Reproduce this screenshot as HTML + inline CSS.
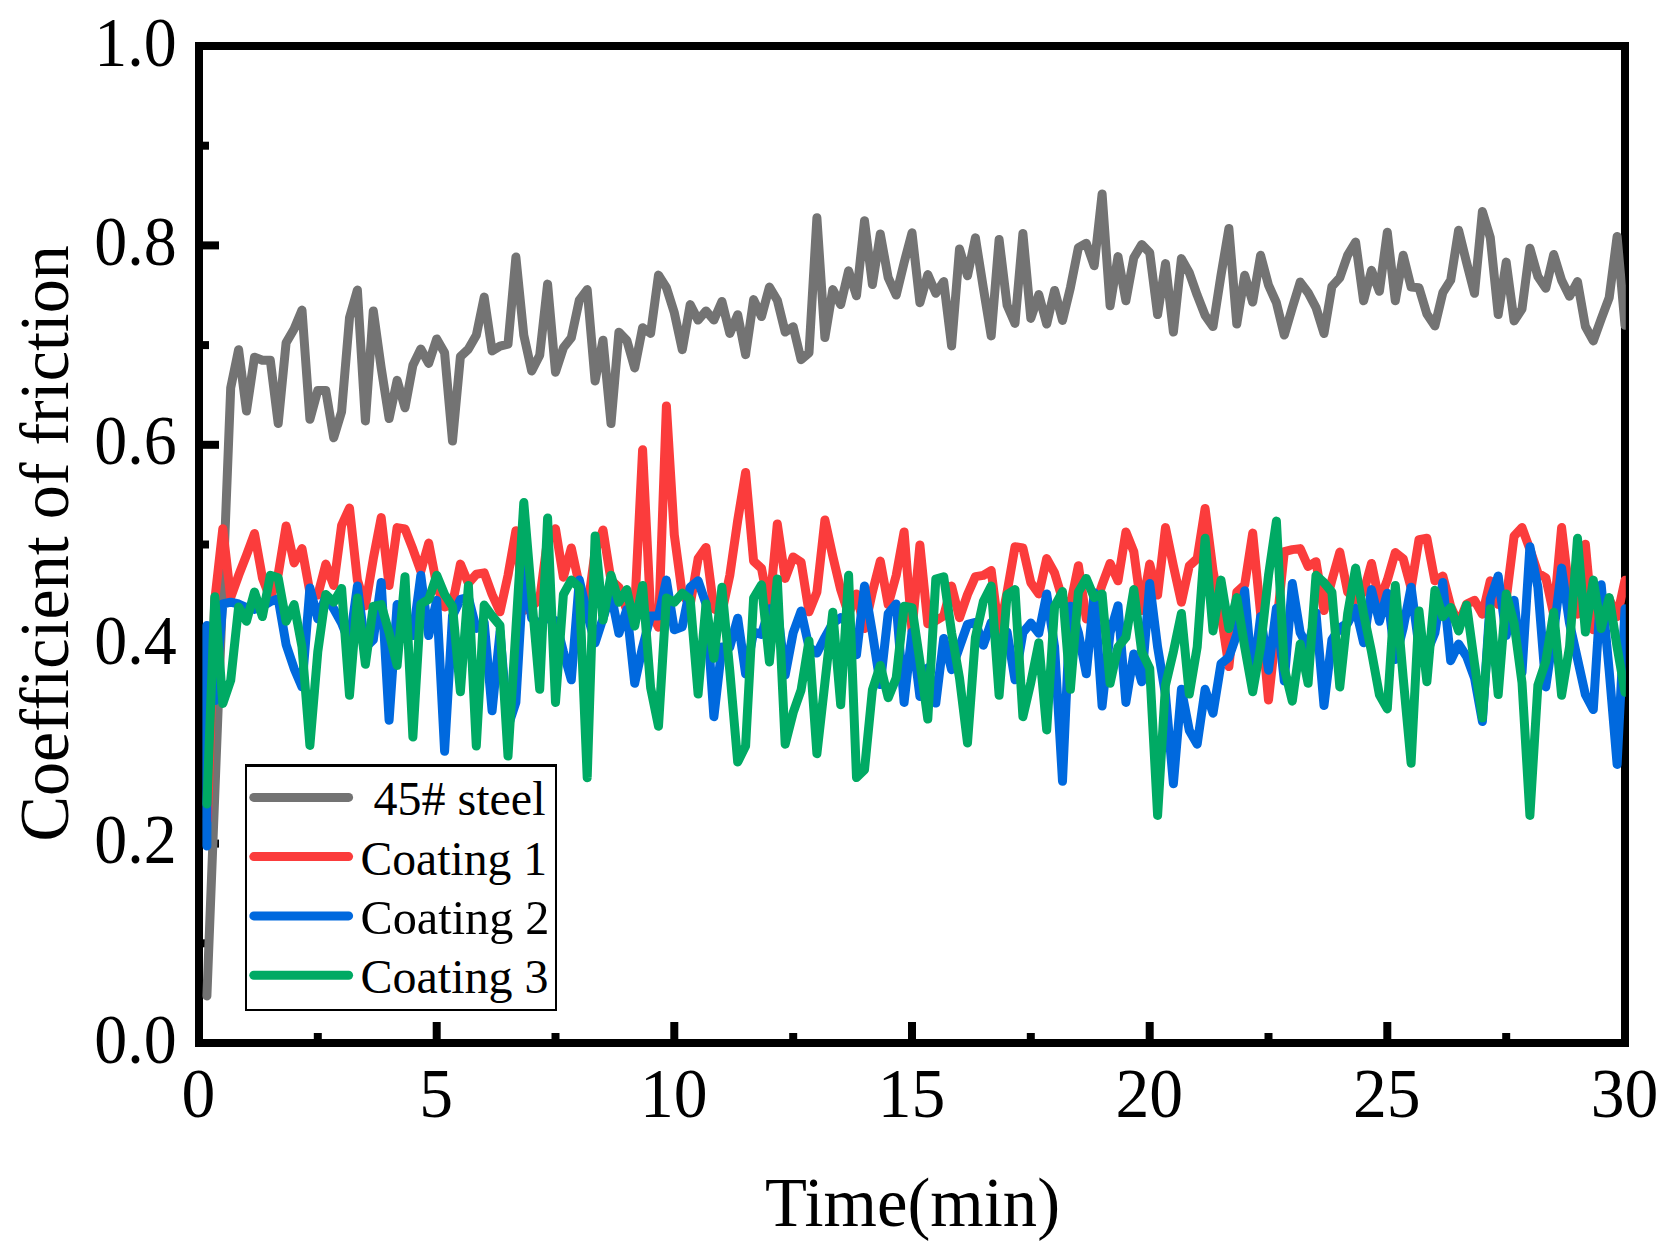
<!DOCTYPE html>
<html lang="en"><head><meta charset="utf-8"><title>Coefficient of friction vs time</title>
<style>html,body{margin:0;padding:0;background:#fff}body{width:1677px;height:1259px;overflow:hidden}svg{display:block}text{font-family:"Liberation Serif","Times New Roman",serif;fill:#000}</style></head><body>
<svg width="1677" height="1259" viewBox="0 0 1677 1259">
<rect width="1677" height="1259" fill="#fff"/>
<defs><clipPath id="pc"><rect x="199.0" y="46.0" width="1426.8" height="997.0"/></clipPath></defs>
<g stroke="#000" stroke-width="8.0" fill="none">
<line x1="199.0" y1="943.3" x2="209.0" y2="943.3"/>
<line x1="199.0" y1="843.6" x2="219.0" y2="843.6"/>
<line x1="199.0" y1="743.9" x2="209.0" y2="743.9"/>
<line x1="199.0" y1="644.2" x2="219.0" y2="644.2"/>
<line x1="199.0" y1="544.5" x2="209.0" y2="544.5"/>
<line x1="199.0" y1="444.8" x2="219.0" y2="444.8"/>
<line x1="199.0" y1="345.1" x2="209.0" y2="345.1"/>
<line x1="199.0" y1="245.4" x2="219.0" y2="245.4"/>
<line x1="199.0" y1="145.7" x2="209.0" y2="145.7"/>
<line x1="317.8" y1="1043.0" x2="317.8" y2="1033.0"/>
<line x1="436.7" y1="1043.0" x2="436.7" y2="1022.0"/>
<line x1="555.5" y1="1043.0" x2="555.5" y2="1033.0"/>
<line x1="674.3" y1="1043.0" x2="674.3" y2="1022.0"/>
<line x1="793.2" y1="1043.0" x2="793.2" y2="1033.0"/>
<line x1="912.0" y1="1043.0" x2="912.0" y2="1022.0"/>
<line x1="1030.8" y1="1043.0" x2="1030.8" y2="1033.0"/>
<line x1="1149.7" y1="1043.0" x2="1149.7" y2="1022.0"/>
<line x1="1268.5" y1="1043.0" x2="1268.5" y2="1033.0"/>
<line x1="1387.3" y1="1043.0" x2="1387.3" y2="1022.0"/>
<line x1="1506.2" y1="1043.0" x2="1506.2" y2="1033.0"/>
</g>
<rect x="199.0" y="46.0" width="1426.0" height="997.0" fill="none" stroke="#000" stroke-width="8.0"/>
<g clip-path="url(#pc)" fill="none" stroke-width="9.0" stroke-linejoin="round" stroke-linecap="round">
<polyline stroke="#737373" points="206.9,996.0 230.7,387.9 238.6,349.7 246.5,411.0 254.5,357.2 262.4,360.3 270.3,360.3 278.2,423.5 286.1,342.8 294.1,329.0 302.0,310.1 309.9,419.3 317.8,390.4 325.8,390.4 333.7,437.8 341.6,411.7 349.5,317.8 357.4,290.1 365.4,421.0 373.3,310.9 381.2,367.8 389.1,418.5 397.1,380.3 405.0,407.8 412.9,365.3 420.8,349.0 428.7,363.4 436.7,338.9 444.6,352.8 452.5,441.1 460.4,356.6 468.4,349.1 476.3,335.3 484.2,297.1 492.1,350.9 500.0,346.1 508.0,344.1 515.9,257.1 523.8,335.3 531.7,371.0 539.7,355.3 547.6,284.1 555.5,372.2 563.4,347.8 571.3,337.8 579.3,300.2 587.2,289.6 595.1,381.0 603.0,340.2 611.0,423.5 618.9,332.2 626.8,340.3 634.7,367.9 642.6,327.7 650.6,333.4 658.5,275.1 666.4,287.7 674.3,312.7 682.3,349.7 690.2,304.6 698.1,320.1 706.0,310.9 713.9,320.1 721.9,301.4 729.8,333.4 737.7,314.7 745.6,354.7 753.6,299.6 761.5,316.6 769.4,287.1 777.3,300.2 785.2,332.1 793.2,326.7 801.1,359.7 809.0,352.8 816.9,217.7 824.9,337.6 832.8,289.6 840.7,304.6 848.6,270.8 856.5,295.8 864.5,220.7 872.4,284.5 880.3,234.0 888.2,277.7 896.2,295.1 904.1,262.7 912.0,232.8 919.9,302.8 927.8,274.6 935.8,293.3 943.7,281.6 951.6,345.9 959.5,249.0 967.5,275.8 975.4,237.8 983.3,287.7 991.2,335.9 999.1,239.5 1007.1,305.2 1015.0,323.4 1022.9,233.5 1030.8,318.4 1038.8,294.6 1046.7,324.1 1054.6,290.4 1062.5,320.4 1070.4,287.7 1078.4,247.6 1086.3,243.3 1094.2,265.8 1102.1,193.9 1110.1,305.8 1118.0,256.6 1125.9,300.8 1133.8,257.7 1141.7,244.5 1149.7,252.6 1157.6,314.6 1165.5,263.6 1173.4,332.1 1181.4,258.6 1189.3,272.7 1197.2,295.2 1205.1,315.3 1213.0,326.6 1221.0,275.2 1228.9,228.5 1236.8,324.1 1244.7,275.3 1252.7,302.1 1260.6,255.3 1268.5,285.2 1276.4,302.7 1284.3,335.1 1292.3,307.7 1300.2,282.1 1308.1,292.7 1316.0,307.7 1324.0,333.4 1331.9,286.5 1339.8,277.7 1347.7,255.1 1355.6,242.0 1363.6,300.8 1371.5,270.3 1379.4,291.3 1387.3,232.3 1395.3,300.8 1403.2,255.3 1411.1,287.0 1419.0,287.7 1426.9,314.0 1434.9,325.9 1442.8,292.7 1450.7,280.2 1458.6,230.3 1466.6,262.7 1474.5,293.3 1482.4,211.5 1490.3,237.6 1498.2,314.6 1506.2,262.1 1514.1,320.9 1522.0,309.0 1529.9,248.3 1537.9,276.4 1545.8,288.3 1553.7,254.5 1561.6,280.2 1569.5,296.3 1577.5,281.6 1585.4,326.5 1593.3,340.9 1601.2,319.0 1609.2,297.7 1617.1,236.5 1625.0,325.3"/>
<polyline stroke="#fb3c3c" points="207.4,820.0 214.8,600.0 222.8,528.8 230.7,597.5 238.6,575.4 246.5,555.1 254.5,533.5 262.4,577.8 270.3,598.7 278.2,574.2 286.1,525.9 294.1,562.9 302.0,548.6 309.9,592.1 317.8,595.1 325.8,564.1 333.7,585.5 341.6,525.3 349.5,508.0 357.4,580.2 365.4,605.8 373.3,558.7 381.2,517.6 389.1,585.5 397.1,527.6 405.0,528.9 412.9,549.2 420.8,571.2 428.7,543.1 436.7,584.9 444.6,607.0 452.5,604.0 460.4,564.1 468.4,583.2 476.3,574.2 484.2,572.9 492.1,594.5 500.0,611.8 508.0,575.4 515.9,530.7 523.8,610.6 531.7,606.4 539.7,599.3 547.6,539.6 555.5,528.8 563.4,577.2 571.3,547.9 579.3,584.9 587.2,610.6 595.1,551.6 603.0,530.0 611.0,580.2 618.9,587.3 626.8,610.6 634.7,608.8 642.6,449.8 650.6,611.2 658.5,627.3 666.4,405.9 674.3,534.9 682.3,594.5 690.2,604.6 698.1,558.7 706.0,547.4 713.9,608.8 721.9,612.3 729.8,575.4 737.7,520.5 745.6,472.5 753.6,561.1 761.5,568.3 769.4,609.4 777.3,524.0 785.2,578.4 793.2,556.9 801.1,562.3 809.0,611.8 816.9,592.1 824.9,519.9 832.8,556.3 840.7,589.7 848.6,614.2 856.5,593.9 864.5,628.5 872.4,592.1 880.3,561.0 888.2,604.6 896.2,575.4 904.1,531.9 912.0,630.6 919.9,545.0 927.8,623.7 935.8,620.7 943.7,616.0 951.6,586.0 959.5,617.7 967.5,594.5 975.4,576.6 983.3,575.4 991.2,570.5 999.1,633.3 1007.1,592.1 1015.0,546.7 1022.9,548.0 1030.8,582.6 1038.8,593.9 1046.7,558.6 1054.6,573.0 1062.5,599.3 1070.4,604.6 1078.4,565.7 1086.3,618.9 1094.2,608.8 1102.1,584.9 1110.1,563.4 1118.0,580.8 1125.9,531.9 1133.8,551.6 1141.7,610.6 1149.7,564.1 1157.6,595.1 1165.5,527.6 1173.4,565.9 1181.4,602.2 1189.3,565.9 1197.2,558.7 1205.1,508.5 1213.0,570.6 1221.0,613.6 1228.9,666.6 1236.8,592.1 1244.7,584.9 1252.7,533.1 1260.6,613.6 1268.5,700.0 1276.4,627.9 1284.3,551.6 1292.3,549.6 1300.2,548.6 1308.1,566.5 1316.0,561.7 1324.0,610.6 1331.9,580.2 1339.8,552.1 1347.7,592.1 1355.6,599.9 1363.6,592.1 1371.5,563.4 1379.4,601.1 1387.3,580.2 1395.3,552.6 1403.2,558.7 1411.1,587.9 1419.0,539.6 1426.9,538.3 1434.9,580.8 1442.8,576.0 1450.7,606.4 1458.6,623.7 1466.6,604.0 1474.5,600.3 1482.4,614.2 1490.3,580.8 1498.2,604.6 1506.2,599.3 1514.1,536.1 1522.0,527.6 1529.9,549.2 1537.9,573.0 1545.8,577.8 1553.7,614.2 1561.6,527.6 1569.5,594.5 1577.5,614.2 1585.4,544.3 1593.3,629.7 1601.2,608.8 1609.2,598.7 1617.1,616.6 1625.0,580.2"/>
<polyline stroke="#0069de" points="206.9,846.0 206.9,625.4 214.8,700.6 222.8,604.0 230.7,602.2 238.6,604.0 246.5,607.6 254.5,609.4 262.4,606.4 270.3,601.6 278.2,598.7 286.1,644.6 294.1,668.4 302.0,686.9 309.9,587.9 317.8,618.9 325.8,596.3 333.7,608.8 341.6,623.1 349.5,642.8 357.4,586.0 365.4,647.6 373.3,639.8 381.2,582.4 389.1,720.3 397.1,604.6 405.0,623.1 412.9,635.6 420.8,575.3 428.7,635.6 436.7,600.3 444.6,751.3 452.5,616.0 460.4,599.3 468.4,597.5 476.3,628.5 484.2,622.5 492.1,710.8 500.0,632.1 508.0,726.5 515.9,702.3 523.8,566.9 531.7,618.3 539.7,623.7 547.6,617.7 555.5,620.7 563.4,651.7 571.3,679.8 579.3,580.1 587.2,613.6 595.1,642.8 603.0,618.3 611.0,593.9 618.9,633.3 626.8,609.4 634.7,683.3 642.6,647.0 650.6,616.0 658.5,616.0 666.4,580.1 674.3,629.7 682.3,626.7 690.2,587.3 698.1,580.8 706.0,604.0 713.9,716.7 721.9,647.0 729.8,647.0 737.7,618.2 745.6,673.8 753.6,632.1 761.5,634.4 769.4,608.8 777.3,608.8 785.2,675.0 793.2,632.7 801.1,611.1 809.0,647.0 816.9,653.1 824.9,637.4 832.8,623.1 840.7,617.7 848.6,623.1 856.5,654.7 864.5,586.0 872.4,632.7 880.3,684.5 888.2,613.6 896.2,603.9 904.1,702.4 912.0,632.1 919.9,696.5 927.8,667.8 935.8,703.1 943.7,638.5 951.6,669.7 959.5,647.0 967.5,624.3 975.4,622.5 983.3,645.2 991.2,622.5 999.1,647.6 1007.1,632.1 1015.0,679.8 1022.9,632.7 1030.8,623.0 1038.8,633.3 1046.7,593.9 1054.6,647.0 1062.5,781.3 1070.4,606.3 1078.4,632.7 1086.3,673.8 1094.2,592.7 1102.1,706.0 1110.1,632.7 1118.0,605.8 1125.9,702.4 1133.8,654.0 1141.7,681.7 1149.7,583.6 1157.6,647.0 1165.5,694.7 1173.4,783.7 1181.4,689.3 1189.3,730.4 1197.2,744.2 1205.1,689.3 1213.0,713.2 1221.0,663.7 1228.9,657.2 1236.8,634.6 1244.7,590.8 1252.7,680.5 1260.6,616.5 1268.5,670.2 1276.4,608.2 1284.3,681.0 1292.3,583.6 1300.2,632.7 1308.1,647.6 1316.0,613.0 1324.0,705.5 1331.9,639.8 1339.8,627.9 1347.7,623.1 1355.6,608.2 1363.6,642.8 1371.5,589.6 1379.4,621.3 1387.3,593.2 1395.3,659.5 1403.2,627.9 1411.1,587.2 1419.0,647.0 1426.9,652.3 1434.9,632.7 1442.8,582.4 1450.7,660.7 1458.6,644.0 1466.6,656.5 1474.5,678.0 1482.4,721.5 1490.3,599.3 1498.2,576.0 1506.2,635.6 1514.1,600.3 1522.0,672.6 1529.9,546.7 1537.9,587.3 1545.8,686.9 1553.7,632.7 1561.6,568.1 1569.5,623.1 1577.5,658.9 1585.4,694.7 1593.3,709.6 1601.2,584.8 1609.2,670.8 1617.1,764.4 1625.0,608.8"/>
<polyline stroke="#00aa64" points="206.9,804.0 214.8,596.8 222.8,703.6 230.7,680.4 238.6,607.0 246.5,621.3 254.5,592.0 262.4,616.6 270.3,575.3 278.2,577.8 286.1,621.3 294.1,604.6 302.0,647.0 309.9,745.4 317.8,651.7 325.8,594.4 333.7,602.2 341.6,588.4 349.5,695.3 357.4,597.9 365.4,664.3 373.3,606.4 381.2,604.6 389.1,632.7 397.1,665.5 405.0,576.7 412.9,737.0 420.8,604.0 428.7,599.3 436.7,575.3 444.6,594.5 452.5,606.4 460.4,691.7 468.4,585.5 476.3,746.1 484.2,605.1 492.1,616.0 500.0,625.5 508.0,756.1 515.9,629.3 523.8,502.5 531.7,596.9 539.7,689.3 547.6,518.0 555.5,702.4 563.4,594.5 571.3,580.1 579.3,587.3 587.2,777.7 595.1,535.9 603.0,620.1 611.0,575.3 618.9,602.2 626.8,589.6 634.7,626.1 642.6,585.5 650.6,687.5 658.5,726.3 666.4,597.9 674.3,602.2 682.3,593.2 690.2,599.3 698.1,694.1 706.0,603.9 713.9,658.3 721.9,587.2 729.8,670.8 737.7,762.1 745.6,746.0 753.6,598.1 761.5,584.8 769.4,661.9 777.3,578.9 785.2,744.2 793.2,712.6 801.1,689.9 809.0,640.9 816.9,753.7 824.9,682.7 832.8,612.3 840.7,704.8 848.6,575.3 856.5,777.6 864.5,769.8 872.4,689.9 880.3,665.4 888.2,697.7 896.2,678.0 904.1,606.3 912.0,607.6 919.9,661.3 927.8,719.1 935.8,579.0 943.7,576.7 951.6,632.7 959.5,678.0 967.5,743.0 975.4,637.4 983.3,601.6 991.2,586.0 999.1,695.3 1007.1,594.5 1015.0,589.6 1022.9,716.7 1030.8,682.7 1038.8,642.8 1046.7,729.9 1054.6,606.4 1062.5,591.5 1070.4,689.3 1078.4,592.1 1086.3,578.4 1094.2,597.5 1102.1,593.9 1110.1,683.3 1118.0,647.0 1125.9,637.4 1133.8,589.6 1141.7,651.7 1149.7,668.4 1157.6,815.4 1165.5,685.1 1173.4,651.7 1181.4,613.4 1189.3,694.1 1197.2,647.0 1205.1,538.3 1213.0,630.9 1221.0,580.1 1228.9,628.5 1236.8,597.5 1244.7,647.0 1252.7,691.7 1260.6,647.0 1268.5,575.4 1276.4,521.1 1284.3,668.4 1292.3,701.2 1300.2,644.0 1308.1,683.3 1316.0,575.3 1324.0,582.6 1331.9,592.1 1339.8,686.9 1347.7,613.6 1355.6,568.1 1363.6,613.6 1371.5,651.7 1379.4,694.7 1387.3,708.9 1395.3,585.5 1403.2,678.0 1411.1,763.2 1419.0,611.1 1426.9,681.7 1434.9,590.3 1442.8,616.6 1450.7,607.5 1458.6,630.9 1466.6,605.1 1474.5,663.7 1482.4,717.9 1490.3,608.7 1498.2,694.6 1506.2,593.9 1514.1,623.1 1522.0,682.7 1529.9,815.4 1537.9,685.1 1545.8,661.3 1553.7,612.3 1561.6,695.3 1569.5,647.0 1577.5,538.3 1585.4,632.1 1593.3,580.1 1601.2,628.5 1609.2,597.5 1617.1,647.0 1625.0,692.3"/>
</g>
<g font-size="68">
<text x="94.2" y="1062.6" font-size="70" textLength="82.4" lengthAdjust="spacingAndGlyphs">0.0</text>
<text x="94.2" y="863.2" font-size="70" textLength="82.4" lengthAdjust="spacingAndGlyphs">0.2</text>
<text x="94.2" y="663.8" font-size="70" textLength="82.4" lengthAdjust="spacingAndGlyphs">0.4</text>
<text x="94.2" y="464.4" font-size="70" textLength="82.4" lengthAdjust="spacingAndGlyphs">0.6</text>
<text x="94.2" y="265.0" font-size="70" textLength="82.4" lengthAdjust="spacingAndGlyphs">0.8</text>
<text x="94.2" y="65.6" font-size="70" textLength="82.4" lengthAdjust="spacingAndGlyphs">1.0</text>
<text x="181.6" y="1117.3" font-size="70" textLength="33.8" lengthAdjust="spacingAndGlyphs">0</text>
<text x="419.3" y="1117.3" font-size="70" textLength="33.8" lengthAdjust="spacingAndGlyphs">5</text>
<text x="640.0" y="1117.3" font-size="70" textLength="67.6" lengthAdjust="spacingAndGlyphs">10</text>
<text x="877.7" y="1117.3" font-size="70" textLength="67.6" lengthAdjust="spacingAndGlyphs">15</text>
<text x="1115.4" y="1117.3" font-size="70" textLength="67.6" lengthAdjust="spacingAndGlyphs">20</text>
<text x="1353.0" y="1117.3" font-size="70" textLength="67.6" lengthAdjust="spacingAndGlyphs">25</text>
<text x="1590.7" y="1117.3" font-size="70" textLength="67.6" lengthAdjust="spacingAndGlyphs">30</text>
<text x="765.0" y="1226" font-size="69" textLength="295" lengthAdjust="spacingAndGlyphs">Time(min)</text>
<text transform="translate(68.0,841.5) rotate(-90)" font-size="70" textLength="596.4" lengthAdjust="spacingAndGlyphs">Coefficient of friction</text>
</g>
<rect x="245" y="764" width="312" height="247" fill="#000"/><rect x="247" y="767" width="308" height="242" fill="#fff"/>
<g stroke-width="9.0" stroke-linecap="round" fill="none">
<line x1="253.8" y1="797.4" x2="348.6" y2="797.4" stroke="#737373"/>
<line x1="253.8" y1="856.6" x2="348.6" y2="856.6" stroke="#fb3c3c"/>
<line x1="253.8" y1="915.9" x2="348.6" y2="915.9" stroke="#0069de"/>
<line x1="253.8" y1="975.3" x2="348.6" y2="975.3" stroke="#00aa64"/>
</g>
<g font-size="48">
<text x="373.5" y="815.3">45# steel</text>
<text x="360.5" y="875.0" textLength="186.6" lengthAdjust="spacingAndGlyphs">Coating 1</text>
<text x="360.5" y="934.2" textLength="189" lengthAdjust="spacingAndGlyphs">Coating 2</text>
<text x="360.5" y="993.2" textLength="188" lengthAdjust="spacingAndGlyphs">Coating 3</text>
</g>
</svg></body></html>
